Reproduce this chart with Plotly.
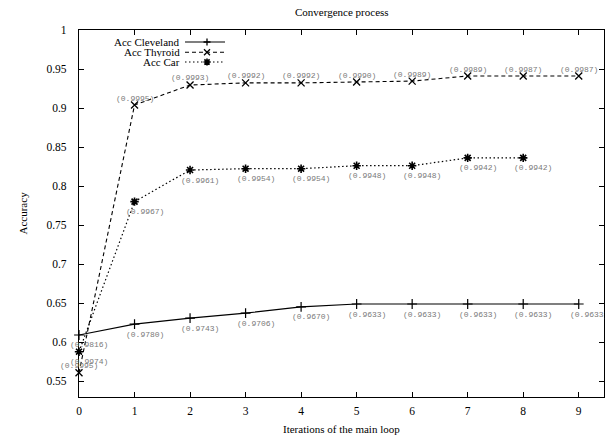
import plotly.graph_objects as go

iterations = [0, 1, 2, 3, 4, 5, 6, 7, 8, 9]
acc_cleveland = [0.609, 0.623, 0.6305, 0.637, 0.645, 0.6487, 0.6487, 0.6487, 0.6487, 0.6487]
acc_thyroid = [0.5606, 0.9038, 0.9295, 0.9322, 0.9322, 0.9333, 0.9345, 0.941, 0.941, 0.941]
acc_car = [0.5876, 0.780, 0.8205, 0.8222, 0.8222, 0.826, 0.826, 0.836, 0.836]
iter_car = [0, 1, 2, 3, 4, 5, 6, 7, 8]

lbl_cleveland = ["(0.9816)", "(0.9780)", "(0.9743)", "(0.9706)", "(0.9670)",
                 "(0.9633)", "(0.9633)", "(0.9633)", "(0.9633)", "(0.9633)"]
lbl_thyroid = ["(0.9995)", "(0.9995)", "(0.9993)", "(0.9992)", "(0.9992)",
               "(0.9990)", "(0.9989)", "(0.9989)", "(0.9987)", "(0.9987)"]
lbl_car = ["(0.9974)", "(0.9967)", "(0.9961)", "(0.9954)", "(0.9954)",
           "(0.9948)", "(0.9948)", "(0.9942)", "(0.9942)"]

series_names = ["Acc Cleveland", "Acc Thyroid", "Acc Car"]
y_ticks = [0.55, 0.6, 0.65, 0.7, 0.75, 0.8, 0.85, 0.9, 0.95, 1.0]
y_tick_text = ["0.55", "0.6", "0.65", "0.7", "0.75", "0.8", "0.85", "0.9", "0.95", "1"]
x_ticks = [0, 1, 2, 3, 4, 5, 6, 7, 8, 9]

SERIF = "Liberation Serif, Times New Roman, serif"
MONO = "Liberation Mono, Courier New, monospace"

fig = go.Figure()
fig.add_trace(go.Scatter(x=iterations, y=acc_cleveland, mode="lines+markers",
                         line=dict(color="black", width=1.2),
                         marker=dict(symbol="cross-thin", size=7, line=dict(color="black", width=1.2)),
                         name=series_names[0], showlegend=False, cliponaxis=False))
fig.add_trace(go.Scatter(x=iterations, y=acc_thyroid, mode="lines+markers",
                         line=dict(color="black", width=1.1, dash="4px,3px"),
                         marker=dict(symbol="x-thin", size=7, line=dict(color="black", width=1.3)),
                         name=series_names[1], showlegend=False, cliponaxis=False))
fig.add_trace(go.Scatter(x=iter_car, y=acc_car, mode="lines+markers",
                         line=dict(color="black", width=1.2, dash="1.5px,2.5px"),
                         marker=dict(symbol="asterisk", size=7, line=dict(color="black", width=1.6)),
                         name=series_names[2], showlegend=False, cliponaxis=False))

annotations = []
lab_font = dict(family=MONO, size=8, color="#7a7a7a")
for xv, yv, t in zip(iterations, acc_cleveland, lbl_cleveland):
    annotations.append(dict(x=xv, y=yv, text=t, showarrow=False, xshift=10, yshift=-10, font=lab_font))
for xv, yv, t in zip(iterations, acc_thyroid, lbl_thyroid):
    annotations.append(dict(x=xv, y=yv, text=t, showarrow=False, xshift=0, yshift=7, font=lab_font))
for xv, yv, t in zip(iter_car, acc_car, lbl_car):
    annotations.append(dict(x=xv, y=yv, text=t, showarrow=False, xshift=10, yshift=-10, font=lab_font))

# axis titles and title
txt_font = dict(family=SERIF, size=11, color="black")
annotations.append(dict(text="Convergence process", xref="paper", yref="paper", x=0.5, y=1,
                        xanchor="center", yanchor="middle",
                        yshift=18, showarrow=False, font=txt_font))
annotations.append(dict(text="Iterations of the main loop", xref="paper", yref="paper", x=0.5, y=0,
                        xanchor="center", yanchor="middle",
                        yshift=-31.5, showarrow=False, font=txt_font))
annotations.append(dict(text="Accuracy", xref="paper", yref="paper", x=0, y=0.5, xshift=-57,
                        xanchor="center", yanchor="middle",
                        textangle=-90, showarrow=False, font=txt_font))

# custom legend (text left, sample right)
plot_left, plot_right, plot_top, plot_bottom = 79, 604, 30, 397
pw = plot_right - plot_left
ph = plot_bottom - plot_top
leg_rows_px = [42, 52.3, 62]
leg_text_right = (182 - plot_left) / pw
leg_x0 = (185 - plot_left) / pw
leg_x1 = (225 - plot_left) / pw
leg_xm = (207 - plot_left) / pw
dashes = ["solid", "4px,3px", "1.5px,2.5px"]
marker_paths = [
    "M-3.5,0 L3.5,0 M0,-3.5 L0,3.5",
    "M-3,-3 L3,3 M-3,3 L3,-3",
    "M-3.5,0 L3.5,0 M0,-3.5 L0,3.5 M-2.6,-2.6 L2.6,2.6 M-2.6,2.6 L2.6,-2.6",
]
shapes = []
for i, name in enumerate(series_names):
    yp = (plot_bottom - leg_rows_px[i]) / ph
    annotations.append(dict(text=name, xref="paper", yref="paper", x=leg_text_right, y=yp,
                            xanchor="right", yanchor="middle", height=10, valign="middle",
                            showarrow=False, font=txt_font))
    shapes.append(dict(type="line", xref="paper", yref="paper", x0=leg_x0, x1=leg_x1, y0=yp, y1=yp,
                       line=dict(color="black", width=1.1, dash=dashes[i])))
    shapes.append(dict(type="path", xref="paper", yref="paper", xsizemode="pixel", ysizemode="pixel",
                       xanchor=leg_xm, yanchor=yp, path=marker_paths[i],
                       line=dict(color="black", width=1.3 if i < 2 else 1.6)))

axis_common = dict(showline=True, linecolor="black", linewidth=1.3, mirror="ticks",
                   ticks="inside", ticklen=5, tickwidth=1, tickcolor="black",
                   showgrid=False, zeroline=False,
                   tickfont=dict(family=SERIF, size=11.5, color="black"))

fig.update_layout(
    width=605, height=438,
    margin=dict(l=plot_left, r=605 - plot_right, t=plot_top, b=438 - plot_bottom, pad=0),
    paper_bgcolor="white", plot_bgcolor="white",
    xaxis=dict(range=[0, 9.455], tickvals=x_ticks, ticklabelstandoff=3, **axis_common),
    yaxis=dict(range=[0.5295, 1.0], tickvals=y_ticks, ticktext=y_tick_text, ticklabelstandoff=9, **axis_common),
    annotations=annotations,
    shapes=shapes,
    showlegend=False,
)

fig.write_html("out.html", config={"displayModeBar": False},
               post_script="document.body.style.margin='0px';document.body.style.overflow='hidden';")
